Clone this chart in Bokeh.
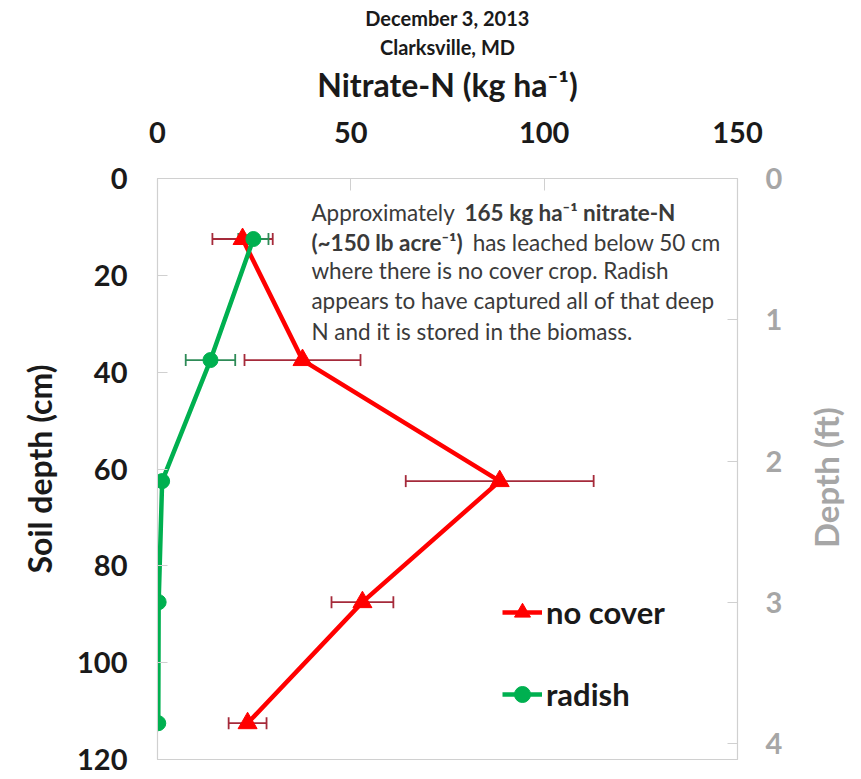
import math
from bokeh.plotting import figure
from bokeh.layouts import row
from bokeh.models import (Range1d, LinearAxis, FixedTicker, Whisker, ColumnDataSource,
                          Label, Legend, LegendItem, TeeHead, Title)
from bokeh.embed import file_html
from bokeh.resources import INLINE

# ---- data ----
depth_cm = [12.5, 37.5, 62.5, 87.5, 112.5]
nocover_n = [22.0, 37.5, 88.5, 53.0, 23.3]
nocover_err = [7.8, 15.0, 24.3, 8.0, 4.9]
radish_n = [24.8, 13.7, 1.2, 0.3, 0.2]
radish_err = [3.9, 6.4, 0.0, 0.0, 0.0]
x_ticks = [0, 50, 100, 150]
y_ticks = [0, 20, 40, 60, 80, 100, 120]
ft_ticks = [0, 1, 2, 3, 4]
title_lines = ["December 3, 2013", "Clarksville, MD"]
series_names = ["no cover", "radish"]
right_axis_title = "Depth (ft)"

FONT = "Lato"
RED = "#ff0000"
GREEN = "#00b050"
RED_ERR = "#a52a3a"
GREEN_ERR = "#2e8b57"
GREYLINE = "#d0d0d0"
GREYTXT = "#a6a6a6"
BLACK = "#1a1a1a"

src_nc = ColumnDataSource(dict(
    y=depth_cm, x=nocover_n,
    lo=[a - b for a, b in zip(nocover_n, nocover_err)],
    hi=[a + b for a, b in zip(nocover_n, nocover_err)]))
src_rd = ColumnDataSource(dict(
    y=depth_cm, x=radish_n,
    lo=[a - b for a, b in zip(radish_n, radish_err)],
    hi=[a + b for a, b in zip(radish_n, radish_err)]))

MAIN_W = 805
SIDE_W = 56
H = 779

p = figure(width=MAIN_W, height=H,
           x_range=Range1d(0, 150), y_range=Range1d(120, 0),
           x_axis_location="above",
           output_backend="svg", toolbar_location=None,
           min_border_left=157, min_border_right=MAIN_W - 737,
           min_border_top=178, min_border_bottom=20)
p.grid.visible = False
p.outline_line_color = GREYLINE
p.outline_line_width = 1.2
p.background_fill_color = "white"
p.border_fill_color = "white"

TICK_FS = "29px"

# top x axis
xa = p.xaxis[0]
xa.ticker = FixedTicker(ticks=x_ticks)
xa.axis_label = "Nitrate-N (kg ha\u207b\u00b9)"
xa.axis_label_text_font = FONT
xa.axis_label_text_font_size = "32px"
xa.axis_label_text_font_style = "bold"
xa.axis_label_text_color = BLACK
xa.axis_label_standoff = 15
xa.major_label_text_font = FONT
xa.major_label_text_font_size = TICK_FS
xa.major_label_text_font_style = "bold"
xa.major_label_text_color = BLACK
xa.major_label_standoff = 36
xa.axis_line_color = GREYLINE
xa.major_tick_line_color = GREYLINE
xa.major_tick_in = 12
xa.major_tick_out = 0
xa.minor_tick_line_color = None

# left y axis
ya = p.yaxis[0]
ya.ticker = FixedTicker(ticks=y_ticks)
ya.axis_label = "Soil depth (cm)"
ya.axis_label_text_font = FONT
ya.axis_label_text_font_size = "32px"
ya.axis_label_text_font_style = "bold"
ya.axis_label_text_color = BLACK
ya.axis_label_standoff = 15
ya.major_label_text_font = FONT
ya.major_label_text_font_size = TICK_FS
ya.major_label_text_font_style = "bold"
ya.major_label_text_color = BLACK
ya.major_label_standoff = 30
ya.axis_line_color = GREYLINE
ya.major_tick_line_color = GREYLINE
ya.major_tick_in = 10
ya.major_tick_out = 0
ya.minor_tick_line_color = None

# right axis in feet (title drawn in the side panel)
p.extra_y_ranges = {"ft": Range1d(4.11, 0)}
ra = LinearAxis(y_range_name="ft", ticker=FixedTicker(ticks=ft_ticks))
ra.major_label_text_font = FONT
ra.major_label_text_font_size = TICK_FS
ra.major_label_text_font_style = "bold"
ra.major_label_text_color = GREYTXT
ra.major_label_standoff = 28
ra.axis_line_color = GREYLINE
ra.major_tick_line_color = GREYLINE
ra.major_tick_in = 10
ra.major_tick_out = 0
ra.minor_tick_line_color = None
p.add_layout(ra, "right")

# titles (closest first)
p.add_layout(Title(text=title_lines[1], align="center", text_font=FONT,
                   text_font_size="20px", text_font_style="bold", text_color=BLACK,
                   standoff=6), "above")
p.add_layout(Title(text=title_lines[0], align="center", text_font=FONT,
                   text_font_size="20px", text_font_style="bold", text_color=BLACK,
                   standoff=0), "above")

# error bars
for src, col in ((src_nc, RED_ERR), (src_rd, GREEN_ERR)):
    w = Whisker(source=src, base="y", lower="lo", upper="hi", dimension="width",
                line_color=col, line_width=1.8,
                lower_head=TeeHead(size=12, line_color=col, line_width=1.8),
                upper_head=TeeHead(size=12, line_color=col, line_width=1.8),
                level="underlay")
    p.add_layout(w)

l_nc = p.line("x", "y", source=src_nc, line_color=RED, line_width=4.5)
s_nc = p.scatter("x", "y", source=src_nc, marker="triangle", size=19,
                 fill_color=RED, line_color=RED)
l_rd = p.line("x", "y", source=src_rd, line_color=GREEN, line_width=4.5)
s_rd = p.scatter("x", "y", source=src_rd, marker="circle", size=15,
                 fill_color=GREEN, line_color=GREEN)

legend = Legend(items=[LegendItem(label=series_names[0], renderers=[l_nc, s_nc]),
                       LegendItem(label=series_names[1], renderers=[l_rd, s_rd])],
                location=(345, 45))
legend.label_text_font = FONT
legend.label_text_font_size = "31px"
legend.label_text_font_style = "bold"
legend.label_text_color = BLACK
legend.glyph_width = 40
legend.glyph_height = 40
legend.label_height = 40
legend.label_standoff = 4
legend.spacing = 42
legend.padding = 0
legend.margin = 0
legend.border_line_color = None
legend.background_fill_alpha = 0
p.add_layout(legend)

# annotation box text
ANN = "#3a3a3a"
def ann(x, y, t, bold=False):
    p.add_layout(Label(x=x, y=y, text=t, text_align="left", text_baseline="middle",
                       text_font=FONT, text_font_size="22.5px",
                       text_font_style="bold" if bold else "normal",
                       text_color=ANN))

ann(39.8, 7.1, "Approximately ")
ann(79.4, 7.1, "165 kg ha\u207b\u00b9 nitrate-N", bold=True)
ann(39.8, 13.3, "(~150 lb acre\u207b\u00b9)", bold=True)
ann(81.5, 13.3, " has leached below 50 cm")
ann(39.8, 19.1, "where there is no cover crop. Radish")
ann(39.8, 25.2, "appears to have captured all of that deep")
ann(39.8, 31.5, "N and it is stored in the biomass.")

# side panel holding the right-axis title (reads bottom to top)
side = figure(width=SIDE_W, height=H, x_range=Range1d(0, SIDE_W), y_range=Range1d(0, H),
              output_backend="svg", toolbar_location=None, min_border=0)
side.axis.visible = False
side.grid.visible = False
side.outline_line_color = None
side.background_fill_color = "white"
side.border_fill_color = "white"
side.add_layout(Label(x=20, y=H - 401, text=right_axis_title, angle=math.pi / 2,
                      text_align="center", text_baseline="middle",
                      text_font=FONT, text_font_size="33px", text_font_style="bold",
                      text_color=GREYTXT))

open("out.html", "w").write(file_html(row(p, side), INLINE))
